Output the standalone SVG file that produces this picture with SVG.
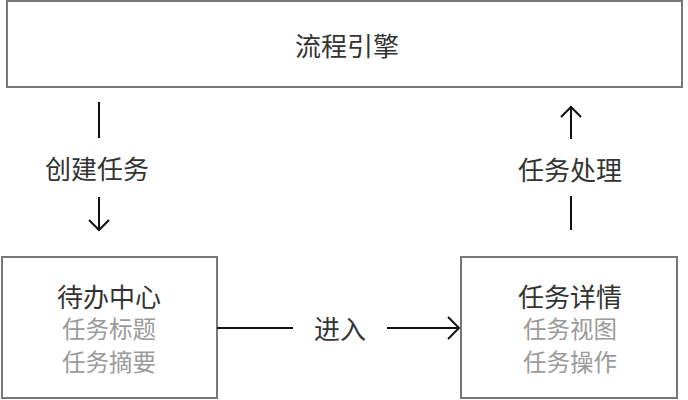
<svg xmlns="http://www.w3.org/2000/svg" width="688" height="400" viewBox="0 0 688 400">
<style>
.box{fill:#fff;stroke:#777;stroke-width:2}
text{font-family:"Noto Sans CJK SC","Noto Sans",sans-serif;text-anchor:middle;dominant-baseline:central}
.t{fill:#333;font-size:26px}
.s{fill:#9a9a9a;font-size:23.5px}
.l{fill:#333;font-size:26px}
.c{stroke:#111;stroke-width:2;fill:none}
</style>
<rect width="688" height="400" fill="#fff"/>
<g id="engine"><rect class="box" x="7" y="1" width="675" height="86"/><text class="t" x="347" y="44">流程引擎</text></g>
<g id="todo"><rect class="box" x="2" y="257" width="215" height="141"/><text class="t" x="109" y="295">待办中心</text><text class="s" x="109" y="328">任务标题</text><text class="s" x="109" y="361">任务摘要</text></g>
<g id="detail"><rect class="box" x="461" y="257" width="216" height="141"/><text class="t" x="570" y="295">任务详情</text><text class="s" x="570" y="328">任务视图</text><text class="s" x="570" y="361">任务操作</text></g>
<g id="connectors">
<path class="c" d="M99,102V138M99,197V231M89,220L99,230L109,220"/>
<text class="l" x="97" y="167">创建任务</text>
<path class="c" d="M571,139V106M571,196V230M561,117L571,107L581,117"/>
<text class="l" x="570" y="168">任务处理</text>
<path class="c" d="M217,328H293M387,328H459M448,317L459,328L448,339"/>
<text class="l" x="340" y="327">进入</text>
</g>
</svg>
